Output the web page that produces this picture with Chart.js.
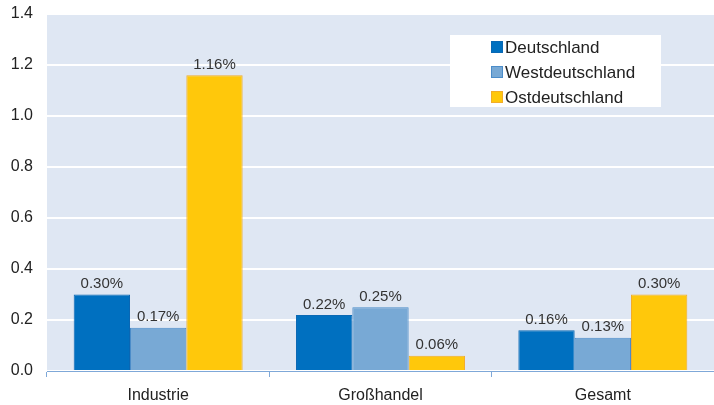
<!DOCTYPE html>
<html><head><meta charset="utf-8">
<script src="https://cdn.jsdelivr.net/npm/chart.js@4/dist/chart.umd.min.js"></script>
<style>html,body{margin:0;padding:0;background:#fff}#wrap{width:714px;height:405px}</style>
</head><body><div id="wrap"><canvas id="c" width="714" height="405"></canvas></div>
<script>
const categories = ['Industrie', 'Großhandel', 'Gesamt'];
const seriesNames = ['Deutschland', 'Westdeutschland', 'Ostdeutschland'];
const deutschland = [0.30, 0.22, 0.16];
const westdeutschland = [0.17, 0.25, 0.13];
const ostdeutschland = [1.16, 0.06, 0.30];
const yTicks = [0, 0.2, 0.4, 0.6, 0.8, 1.0, 1.2, 1.4];

const FONT = '"Liberation Sans", Arial, sans-serif';
const fills = ['#0070c0', '#78a9d5', '#ffc80b'];
const borders = ['#0a68b4', '#4b8cc9', '#f2ad2a'];

const bgPlugin = {
  id: 'bg',
  beforeDraw(chart) {
    const {ctx, chartArea: a} = chart;
    ctx.save();
    ctx.fillStyle = '#dfe7f3';
    ctx.fillRect(a.left, a.top, a.right - a.left, a.bottom - a.top);
    ctx.restore();
  }
};

const labelPlugin = {
  id: 'vals',
  afterDatasetsDraw(chart) {
    const ctx = chart.ctx;
    ctx.save();
    ctx.font = '15px ' + FONT;
    ctx.fillStyle = '#333333';
    ctx.textAlign = 'center';
    ctx.textBaseline = 'bottom';
    chart.data.datasets.forEach((ds, i) => {
      chart.getDatasetMeta(i).data.forEach((bar, j) => {
        ctx.fillText(ds.data[j].toFixed(2) + '%', bar.x, bar.y - 3);
      });
    });
    ctx.restore();
  }
};

const legendPlugin = {
  id: 'boxLegend',
  afterDraw(chart) {
    const ctx = chart.ctx;
    const x0 = 450, y0 = 35, w = 211, h = 72;
    ctx.save();
    ctx.fillStyle = '#ffffff';
    ctx.fillRect(x0, y0, w, h);
    ctx.font = '17px ' + FONT;
    ctx.textBaseline = 'middle';
    ctx.textAlign = 'left';
    chart.data.datasets.forEach((ds, i) => {
      const cy = y0 + 12 + i * 25;
      ctx.fillStyle = ds.backgroundColor;
      ctx.fillRect(491, cy - 6, 12, 12);
      ctx.strokeStyle = ds.borderColor;
      ctx.lineWidth = 1;
      ctx.strokeRect(491.5, cy - 5.5, 11, 11);
      ctx.fillStyle = '#222222';
      ctx.fillText(ds.label, 505, cy + 1);
    });
    ctx.restore();
  }
};

const datasets = [deutschland, westdeutschland, ostdeutschland].map((d, i) => ({
  label: seriesNames[i],
  data: d,
  backgroundColor: fills[i],
  borderColor: borders[i],
  borderWidth: 1,
  borderSkipped: 'bottom',
  categoryPercentage: 0.76,
  barPercentage: 1.0
}));

new Chart(document.getElementById('c'), {
  type: 'bar',
  data: { labels: categories, datasets },
  options: {
    responsive: false,
    animation: false,
    layout: { padding: { top: 14, right: 0, left: 0, bottom: 0 } },
    plugins: { legend: { display: false }, tooltip: { enabled: false } },
    scales: {
      x: {
        offset: true,
        grid: { offset: true, display: true, drawOnChartArea: false, drawTicks: true, tickLength: 6, color: '#7fa8d8' },
        border: { display: true, color: '#7fa8d8', width: 1 },
        ticks: { font: { family: FONT, size: 16 }, color: '#222222', padding: 9 },
        afterFit(s) { s.height = 34; s.paddingLeft = 0; s.paddingRight = 0; }
      },
      y: {
        min: 0, max: 1.4,
        afterBuildTicks(s) { s.ticks = yTicks.map(v => ({ value: v })); },
        grid: { color: '#ffffff', lineWidth: 2, drawTicks: false },
        border: { display: false },
        ticks: { font: { family: FONT, size: 16 }, color: '#222222', padding: 14, callback: v => Number(v).toFixed(1) },
        afterFit(s) { s.width = 47; s.paddingTop = 0; s.paddingBottom = 0; }
      }
    }
  },
  plugins: [bgPlugin, labelPlugin, legendPlugin]
});
</script></body></html>
